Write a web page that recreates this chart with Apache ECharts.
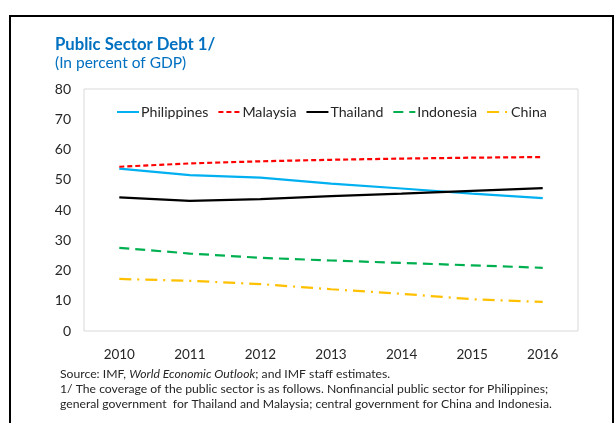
<!DOCTYPE html>
<html>
<head>
<meta charset="utf-8">
<script src="https://cdn.jsdelivr.net/npm/echarts@6/dist/echarts.min.js"></script>
<style>
  html, body { margin: 0; padding: 0; background: #fff; }
  #chart { width: 615px; height: 423px; }
</style>
</head>
<body>
<div id="chart"></div>
<script>
// years on the x axis
const years = ['2010', '2011', '2012', '2013', '2014', '2015', '2016'];

// public sector debt, percent of GDP
const philippines = [53.7, 51.5, 50.7, 48.7, 47.1, 45.4, 43.9];
const malaysia = [54.3, 55.4, 56.1, 56.6, 57.0, 57.3, 57.5];
const thailand = [44.2, 43.0, 43.6, 44.6, 45.4, 46.3, 47.2];
const indonesia = [27.5, 25.6, 24.2, 23.3, 22.5, 21.7, 20.9];
const china = [17.2, 16.6, 15.5, 13.8, 12.3, 10.5, 9.6];

const yTicks = { min: 0, max: 80, interval: 10 };

const font = 'Lato, "Open Sans", sans-serif';
const noteSize = 12.2;

const chart = echarts.init(document.getElementById('chart'));

// helper for one line series
function makeLine(name, data, color, dash) {
    return {
        name: name,
        type: 'line',
        data: data,
        symbol: 'none',
        lineStyle: { color: color, width: 2.2, type: dash },
        itemStyle: { color: color }
    };
}

const option = {
    animation: false,
    title: {
        text: 'Public Sector Debt 1/',
        subtext: '(In percent of GDP)',
        left: 50,
        top: 31,
        itemGap: 2,
        textStyle: { color: '#0070C0', fontSize: 16.7, fontWeight: 'bold', fontFamily: font },
        subtextStyle: { color: '#0070C0', fontSize: 15.5, fontFamily: font }
    },
    legend: {
        left: 111,
        top: 100,
        itemWidth: 22,
        itemHeight: 10,
        itemGap: 9,
        itemStyle: { opacity: 0 },
        textStyle: { color: '#262626', fontSize: 14.2, fontFamily: font, padding: [0, 0, 0, -3] }
    },
    grid: {
        left: 84,
        top: 89,
        width: 494,
        height: 242,
        show: true,
        borderColor: '#d9d9d9',
        borderWidth: 1
    },
    xAxis: {
        type: 'category',
        data: years,
        boundaryGap: true,
        axisLine: { show: false },
        axisTick: { show: false },
        axisLabel: { color: '#262626', fontSize: 13.5, fontFamily: font, margin: 17 }
    },
    yAxis: {
        type: 'value',
        min: yTicks.min,
        max: yTicks.max,
        interval: yTicks.interval,
        axisLine: { show: false },
        axisTick: { show: false },
        splitLine: { show: false },
        axisLabel: { color: '#262626', fontSize: 14, fontFamily: font, margin: 13 }
    },
    graphic: [
        {
            type: 'rect',
            shape: { x: 10, y: 16, width: 603, height: 420 },
            style: { fill: 'none', stroke: '#000', lineWidth: 2 },
            silent: true
        },
        {
            type: 'text',
            left: 60,
            top: 368,
            style: {
                text: '{n|Source: IMF, }{i|World Economic Outlook}{n|; and IMF staff estimates.}',
                rich: {
                    n: { fontSize: noteSize, fill: '#262626', fontFamily: font },
                    i: { fontSize: noteSize, fill: '#262626', fontFamily: font, fontStyle: 'italic' }
                }
            }
        },
        {
            type: 'text',
            left: 60,
            top: 383,
            style: {
                text: '1/ The coverage of the public sector is as follows. Nonfinancial public sector for Philippines;',
                fontSize: noteSize, fill: '#262626', fontFamily: font
            }
        },
        {
            type: 'text',
            left: 60,
            top: 398,
            style: {
                text: 'general government  for Thailand and Malaysia; central government for China and Indonesia.',
                fontSize: noteSize, fill: '#262626', fontFamily: font
            }
        }
    ],
    series: [
        makeLine('Philippines', philippines, '#00B0F0', 'solid'),
        makeLine('Malaysia', malaysia, '#FF0000', [5, 3]),
        makeLine('Thailand', thailand, '#000000', 'solid'),
        makeLine('Indonesia', indonesia, '#00B050', [10, 6]),
        makeLine('China', china, '#FFC000', [12, 6, 2, 6])
    ]
};

chart.setOption(option);
</script>
</body>
</html>
